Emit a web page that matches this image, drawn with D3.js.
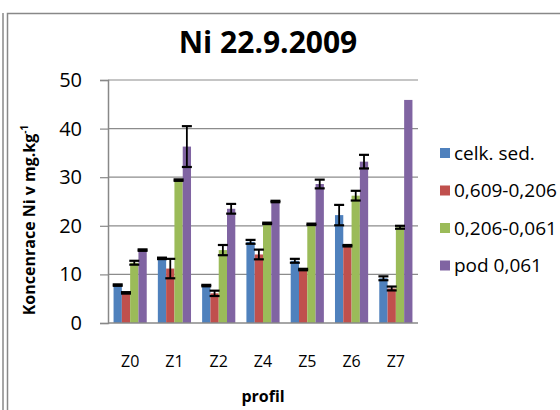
<!DOCTYPE html>
<html>
<head>
<meta charset="utf-8">
<script src="https://d3js.org/d3.v7.min.js"></script>
<style>
  body { margin: 0; background: #fff; }
  svg { display: block; font-family: "Open Sans", sans-serif; }
</style>
</head>
<body>
<div id="chart"></div>
<script>
  // profiles and size fractions
  const profiles = ["Z0", "Z1", "Z2", "Z4", "Z5", "Z6", "Z7"];
  const fractions = ["celk. sed.", "0,609-0,206", "0,206-0,061", "pod 0,061"];
  const colors = ["#4F81BD", "#C0504D", "#9BBB59", "#8064A2"];

  // mean values (mg/kg)
  const celkSed = [7.8, 13.3, 7.7, 16.7, 12.8, 22.2, 9.2];
  const frac609 = [6.2, 11.2, 6.1, 14.1, 11.0, 15.9, 7.1];
  const frac206 = [12.4, 29.4, 15.0, 20.5, 20.3, 26.2, 19.7];
  const pod061 = [15.0, 36.3, 23.5, 25.0, 28.6, 33.2, 45.9];

  // error (+/-)
  const errCelk = [0.15, 0.15, 0.15, 0.4, 0.4, 2.1, 0.4];
  const err609 = [0.15, 2.0, 0.55, 1.0, 0.15, 0.15, 0.4];
  const err206 = [0.4, 0.15, 1.05, 0.15, 0.15, 1.0, 0.3];
  const errPod = [0.15, 4.2, 1.0, 0.15, 0.9, 1.4, 0];

  const yTicks = [0, 10, 20, 30, 40, 50];

  const values = [celkSed, frac609, frac206, pod061];
  const errors = [errCelk, err609, err206, errPod];

  const rows = [];
  profiles.forEach((p, i) => {
    fractions.forEach((f, j) => {
      rows.push({ profile: p, fraction: f, value: values[j][i], err: errors[j][i], color: colors[j] });
    });
  });

  const width = 560;
  const height = 410;
  const plot = { left: 108, right: 418, top: 80, bottom: 323 };

  const svg = d3.select("#chart").append("svg")
    .attr("width", width)
    .attr("height", height);

  // frame
  svg.append("line")
    .attr("x1", 3).attr("x2", 3).attr("y1", 13).attr("y2", height)
    .attr("stroke", "#888").attr("stroke-width", 1.5);
  svg.append("path")
    .attr("d", `M7.5,${height} V13.5 H${width}`)
    .attr("fill", "none").attr("stroke", "#888").attr("stroke-width", 1.5);

  const x0 = d3.scaleBand().domain(profiles).range([plot.left, plot.right]);
  const x1 = d3.scaleBand().domain(fractions).range([0, x0.bandwidth()]).paddingOuter(0.67);
  const y = d3.scaleLinear().domain([0, 50]).range([plot.bottom, plot.top]);

  // gridlines
  svg.append("g")
    .selectAll("line")
    .data(yTicks.filter(d => d > 0))
    .join("line")
    .attr("x1", plot.left).attr("x2", plot.right)
    .attr("y1", d => y(d)).attr("y2", d => y(d))
    .attr("stroke", "#8c8c8c").attr("stroke-width", 1.2);

  // y axis
  const yAxis = svg.append("g")
    .attr("transform", `translate(${plot.left},0)`)
    .call(d3.axisLeft(y).tickValues(yTicks).tickSize(8).tickPadding(18));
  yAxis.select(".domain").attr("stroke", "#888").attr("stroke-width", 1.5);
  yAxis.selectAll(".tick line").attr("stroke", "#888").attr("stroke-width", 1.2);
  yAxis.selectAll("text")
    .attr("font-family", "Open Sans, sans-serif")
    .attr("font-size", 20)
    .attr("fill", "#000");

  // bars
  svg.append("g")
    .selectAll("rect")
    .data(rows)
    .join("rect")
    .attr("x", d => x0(d.profile) + x1(d.fraction))
    .attr("y", d => y(d.value))
    .attr("width", x1.bandwidth())
    .attr("height", d => y(0) - y(d.value))
    .attr("fill", d => d.color);

  // x axis line
  svg.append("line")
    .attr("x1", plot.left).attr("x2", plot.right)
    .attr("y1", plot.bottom).attr("y2", plot.bottom)
    .attr("stroke", "#888").attr("stroke-width", 1.5);

  // error bars
  const eb = svg.append("g")
    .selectAll("g")
    .data(rows.filter(d => d.err > 0))
    .join("g")
    .attr("transform", d => `translate(${x0(d.profile) + x1(d.fraction) + x1.bandwidth() / 2},0)`);
  eb.append("line")
    .attr("y1", d => y(d.value + d.err)).attr("y2", d => y(d.value - d.err))
    .attr("stroke", "#000").attr("stroke-width", 1.8);
  eb.append("line")
    .attr("x1", -5).attr("x2", 5)
    .attr("y1", d => y(d.value + d.err)).attr("y2", d => y(d.value + d.err))
    .attr("stroke", "#000").attr("stroke-width", 2.2);
  eb.append("line")
    .attr("x1", -5).attr("x2", 5)
    .attr("y1", d => y(d.value - d.err)).attr("y2", d => y(d.value - d.err))
    .attr("stroke", "#000").attr("stroke-width", 2.2);

  // category labels
  svg.append("g")
    .selectAll("text")
    .data(profiles)
    .join("text")
    .attr("x", d => x0(d) + x0.bandwidth() / 2)
    .attr("y", 367)
    .attr("text-anchor", "middle")
    .attr("font-size", 16)
    .text(d => d);

  // title
  svg.append("text")
    .attr("x", 268).attr("y", 53)
    .attr("text-anchor", "middle")
    .attr("font-size", 30)
    .attr("font-weight", "bold")
    .text("Ni 22.9.2009");

  // axis titles
  svg.append("text")
    .attr("x", 263).attr("y", 402)
    .attr("text-anchor", "middle")
    .attr("font-size", 16)
    .attr("font-weight", "bold")
    .text("profil");

  const yl = svg.append("text")
    .attr("transform", "translate(35,220) rotate(-90)")
    .attr("text-anchor", "middle")
    .attr("font-size", 16)
    .attr("font-weight", "bold");
  yl.append("tspan").text("Koncenrace Ni v mg.kg");
  yl.append("tspan").attr("font-size", 10).attr("dy", -7).text("-1");

  // legend
  const legend = svg.append("g")
    .selectAll("g")
    .data(fractions)
    .join("g")
    .attr("transform", (d, i) => `translate(440,${153 + i * 37.5})`);
  legend.append("rect")
    .attr("x", 0).attr("y", -5)
    .attr("width", 10).attr("height", 10)
    .attr("fill", (d, i) => colors[i]);
  legend.append("text")
    .attr("x", 14).attr("y", 6.5)
    .attr("font-size", 19)
    .text(d => d);
</script>
</body>
</html>
